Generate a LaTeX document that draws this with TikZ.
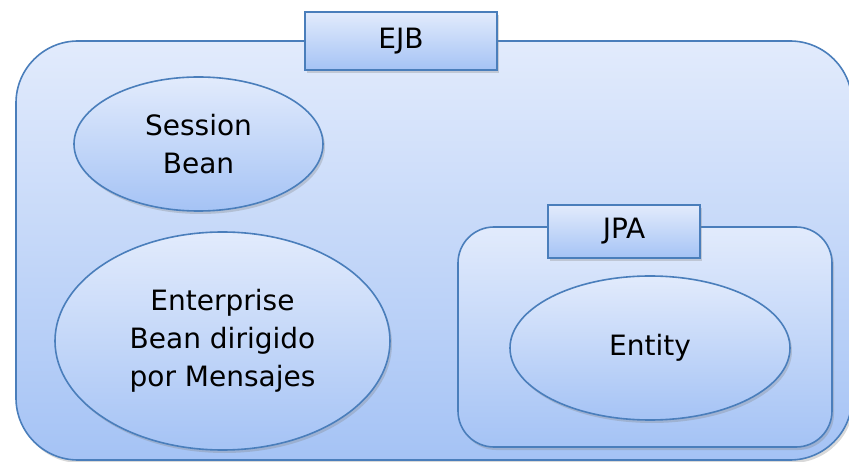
\documentclass[tikz,border=0pt]{standalone}
\usepackage{fontspec}
\setmainfont{DejaVu Sans}
\usetikzlibrary{shapes.geometric,shadows}
\definecolor{bord}{HTML}{4A7EBB}
\definecolor{topc}{HTML}{E2EBFC}
\definecolor{botc}{HTML}{A5C3F5}
\begin{document}
\begin{tikzpicture}[x=1pt,y=-1pt,
  fillshape/.style={top color=topc,bottom color=botc,draw=bord,line width=1.6pt,inner sep=0pt},
  shad/.style={drop shadow={opacity=0.3,shadow xshift=2pt,shadow yshift=-3pt}},
  lbl/.style={font=\fontsize{28}{38}\selectfont,align=center,text=black},
  boxnode/.style={fillshape,shad,rectangle},
  ellnode/.style={fillshape,shad,ellipse,lbl}]
\useasboundingbox (0,0) rectangle (849,462);
\node[boxnode,rounded corners=62pt,minimum width=836pt,minimum height=419pt] (ejbbox) at (434,250.5) {};
\node[boxnode,lbl,minimum width=192pt,minimum height=58pt] (ejb) at (401,41) {EJB};
\node[ellnode,minimum width=249pt,minimum height=134pt] (session) at (198.5,144) {Session\\Bean};
\node[ellnode,minimum width=335pt,minimum height=218pt] (mdb) at (222.5,341) {Enterprise\\Bean dirigido\\por Mensajes};
\node[boxnode,rounded corners=36pt,minimum width=374pt,minimum height=220pt] (jpabox) at (645,337) {};
\node[boxnode,lbl,minimum width=152pt,minimum height=53pt] (jpa) at (624,231.5) {JPA};
\node[ellnode,minimum width=280pt,minimum height=144pt] (entity) at (650,348) {Entity};
\end{tikzpicture}
\end{document}
